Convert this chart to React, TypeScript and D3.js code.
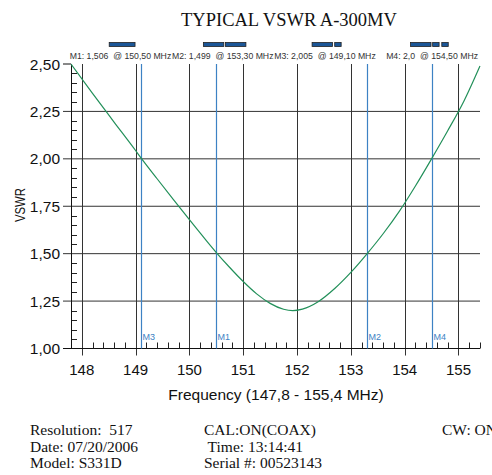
import { useEffect, useRef } from "react";
import * as d3 from "d3";

// ── Data ─────────────────────────────────────────────────────────────
const freqs = [
  147.8, 148.2, 148.6, 149.0, 149.1, 149.4, 149.7, 150.0, 150.3, 150.5, 150.75,
  151.0, 151.25, 151.5, 151.75, 151.92, 152.1, 152.4, 152.7, 153.0, 153.3,
  153.6, 153.9, 154.2, 154.5, 154.8, 155.1, 155.4,
];
const vswr = [
  2.5, 2.345, 2.194, 2.044, 2.005, 1.895, 1.786, 1.679, 1.574, 1.506, 1.427,
  1.353, 1.288, 1.238, 1.207, 1.2, 1.208, 1.248, 1.316, 1.401, 1.499, 1.605,
  1.723, 1.857, 2.0, 2.148, 2.304, 2.49,
];

const markerNames = ["M1", "M2", "M3", "M4"];
const markerFreqs = [150.5, 153.3, 149.1, 154.5];
const markerReadouts = ["1,506", "1,499", "2,005", "2,0"];

const xTicks = [148, 149, 150, 151, 152, 153, 154, 155];
const yTicks = [1.0, 1.25, 1.5, 1.75, 2.0, 2.25, 2.5];

// little block indicators above the readout line (frequency ranges)
const blockBars = [
  [148.51, 148.99],
  [150.26, 150.64],
  [150.67, 151.05],
  [152.28, 152.66],
  [152.7, 152.82],
  [154.11, 154.49],
  [154.52, 154.64],
  [154.69, 154.81],
];

const footerLeft = ["Resolution:  517", "Date: 07/20/2006", "Model: S331D"];
const footerMid = ["CAL:ON(COAX)", " Time: 13:14:41", "Serial #: 00523143"];
const footerRight = ["CW: ON"];

const W = 492;
const H = 475;
const sans = "'Liberation Sans', Arial, sans-serif";
const serif = "'Liberation Serif', 'Times New Roman', serif";
const comma = (v: number, d: number) => v.toFixed(d).replace(".", ",");

export default function App() {
  const svgRef = useRef<SVGSVGElement>(null);

  useEffect(() => {
    if (!svgRef.current) return;
    const svg = d3.select(svgRef.current);
    svg.selectAll("*").remove();

    const x = d3.scaleLinear().domain([147.8, 155.4]).range([71, 480]);
    const y = d3.scaleLinear().domain([1, 2.5]).range([348.5, 64]);

    const gridColor = "#333";
    const blue = "#3d82c4";

    // ── Title ─────────────────────────────────────────────────────────
    svg
      .append("text")
      .attr("x", 289)
      .attr("y", 26)
      .attr("text-anchor", "middle")
      .attr("font-family", serif)
      .attr("font-size", "18.5px")
      .attr("fill", "#111")
      .text("TYPICAL VSWR A-300MV");

    // ── Block bars ────────────────────────────────────────────────────
    svg
      .selectAll(".blk")
      .data(blockBars)
      .enter()
      .append("rect")
      .attr("x", (d) => x(d[0]))
      .attr("y", 42.5)
      .attr("width", (d) => x(d[1]) - x(d[0]))
      .attr("height", 4)
      .attr("fill", "#1b5697")
      .attr("stroke", "#222")
      .attr("stroke-width", 0.8);

    // ── Marker readouts ───────────────────────────────────────────────
    const colW = (x.range()[1] - x.range()[0]) / 4;
    svg
      .selectAll(".readout")
      .data(markerNames)
      .enter()
      .append("text")
      .attr("x", (_, i) => x.range()[0] + (i + 1) * colW - 2)
      .attr("y", 59)
      .attr("text-anchor", "end")
      .attr("font-family", sans)
      .attr("font-size", "8.7px")
      .attr("fill", "#333")
      .style("white-space", "pre")
      .text(
        (d, i) =>
          `${d}: ${markerReadouts[i]}  @ ${comma(markerFreqs[i], 2)} MHz`,
      );

    // ── Grid ──────────────────────────────────────────────────────────
    svg
      .selectAll(".vgrid")
      .data(xTicks)
      .enter()
      .append("line")
      .attr("x1", (d) => Math.round(x(d)) + 0.5)
      .attr("x2", (d) => Math.round(x(d)) + 0.5)
      .attr("y1", y(2.5))
      .attr("y2", y(1) + 7)
      .attr("stroke", gridColor)
      .attr("stroke-width", 1);

    svg
      .selectAll(".hgrid")
      .data(yTicks.filter((d) => d < 2.5))
      .enter()
      .append("line")
      .attr("x1", x.range()[0] - 8)
      .attr("x2", x.range()[1])
      .attr("y1", (d) => y(d))
      .attr("y2", (d) => y(d))
      .attr("stroke", (d) => (d === 1 ? "#111" : gridColor))
      .attr("stroke-width", 1);

    // 2.50 major tick only (no top grid line)
    svg
      .append("line")
      .attr("x1", x.range()[0] - 8)
      .attr("x2", x.range()[0])
      .attr("y1", y(2.5))
      .attr("y2", y(2.5))
      .attr("stroke", "#111");

    // ── Minor ticks ───────────────────────────────────────────────────
    const xMinor = d3
      .range(147.8, 155.41, 0.2)
      .filter((f) => Math.abs(f - Math.round(f)) > 0.01);
    svg
      .selectAll(".xminor")
      .data(xMinor)
      .enter()
      .append("line")
      .attr("x1", (d) => Math.round(x(d)) + 0.5)
      .attr("x2", (d) => Math.round(x(d)) + 0.5)
      .attr("y1", y(1))
      .attr("y2", y(1) - 6)
      .attr("stroke", "#222");

    const yMinor = d3
      .range(1, 2.501, 0.05)
      .filter((v) => Math.abs(v * 4 - Math.round(v * 4)) > 0.01);
    svg
      .selectAll(".yminor")
      .data(yMinor)
      .enter()
      .append("line")
      .attr("x1", x.range()[0])
      .attr("x2", x.range()[0] + 6)
      .attr("y1", (d) => Math.round(y(d)) + 0.5)
      .attr("y2", (d) => Math.round(y(d)) + 0.5)
      .attr("stroke", "#222");

    // left axis line
    svg
      .append("line")
      .attr("x1", x.range()[0] + 0.5)
      .attr("x2", x.range()[0] + 0.5)
      .attr("y1", y(2.5))
      .attr("y2", y(1))
      .attr("stroke", "#111");

    // ── Marker lines ──────────────────────────────────────────────────
    svg
      .selectAll(".mline")
      .data(markerFreqs)
      .enter()
      .append("line")
      .attr("x1", (d) => Math.round(x(d)) + 0.5)
      .attr("x2", (d) => Math.round(x(d)) + 0.5)
      .attr("y1", y(2.5))
      .attr("y2", y(1))
      .attr("stroke", blue)
      .attr("stroke-width", 1.2);

    svg
      .selectAll(".mlabel")
      .data(markerNames)
      .enter()
      .append("text")
      .attr("x", (_, i) => Math.round(x(markerFreqs[i])) + 1.5)
      .attr("y", 340)
      .attr("font-family", sans)
      .attr("font-size", "9px")
      .attr("fill", blue)
      .text((d) => d);

    // ── VSWR curve ────────────────────────────────────────────────────
    const clipId = "plot-clip";
    svg
      .append("clipPath")
      .attr("id", clipId)
      .append("rect")
      .attr("x", x.range()[0])
      .attr("y", y(2.5) - 1)
      .attr("width", x.range()[1] - x.range()[0] + 1)
      .attr("height", y(1) - y(2.5) + 1);

    const line = d3
      .line<number>()
      .x((d) => x(d))
      .y((_, i) => y(vswr[i]))
      .curve(d3.curveMonotoneX);
    svg
      .append("path")
      .attr("d", line(freqs))
      .attr("clip-path", `url(#${clipId})`)
      .attr("fill", "none")
      .attr("stroke", "#23905a")
      .attr("stroke-width", 1.2);

    // ── Tick labels ───────────────────────────────────────────────────
    svg
      .selectAll(".xlab")
      .data(xTicks)
      .enter()
      .append("text")
      .attr("x", (d) => x(d))
      .attr("y", 375)
      .attr("text-anchor", "middle")
      .attr("font-family", sans)
      .attr("font-size", "15px")
      .attr("fill", "#111")
      .text((d) => d);

    svg
      .selectAll(".ylab")
      .data(yTicks)
      .enter()
      .append("text")
      .attr("x", 60)
      .attr("y", (d) => y(d) + 5.5)
      .attr("text-anchor", "end")
      .attr("font-family", sans)
      .attr("font-size", "15.5px")
      .attr("fill", "#111")
      .text((d) => comma(d, 2));

    // ── Axis titles ───────────────────────────────────────────────────
    svg
      .append("text")
      .attr("x", 276)
      .attr("y", 400)
      .attr("text-anchor", "middle")
      .attr("font-family", sans)
      .attr("font-size", "15.5px")
      .attr("fill", "#111")
      .text("Frequency (147,8 - 155,4 MHz)");

    svg
      .append("text")
      .attr("transform", "translate(25,205) rotate(-90)")
      .attr("text-anchor", "middle")
      .attr("font-family", sans)
      .attr("font-size", "14px")
      .attr("textLength", 34)
      .attr("lengthAdjust", "spacingAndGlyphs")
      .attr("fill", "#111")
      .text("VSWR");

    // ── Footer ────────────────────────────────────────────────────────
    const footer = [
      { lines: footerLeft, x: 30 },
      { lines: footerMid, x: 204 },
      { lines: footerRight, x: 442 },
    ];
    footer.forEach((col) => {
      svg
        .selectAll(null)
        .data(col.lines)
        .enter()
        .append("text")
        .attr("x", col.x)
        .attr("y", (_, i) => 435 + i * 16.5)
        .attr("font-family", serif)
        .attr("font-size", "15.5px")
        .attr("fill", "#111")
        .style("white-space", "pre")
        .text((d) => d);
    });
  }, []);

  return (
    <svg
      ref={svgRef}
      width={W}
      height={H}
      style={{ position: "absolute", left: 0, top: 0, background: "#fff" }}
    />
  );
}
